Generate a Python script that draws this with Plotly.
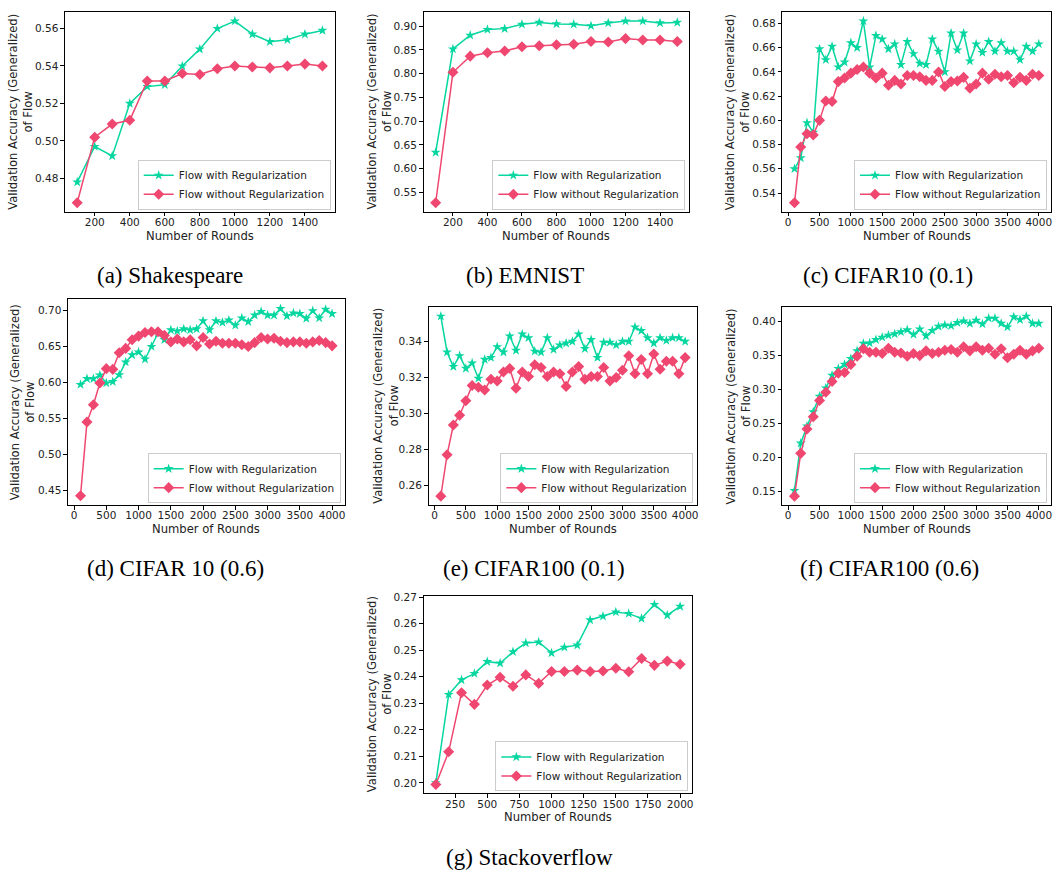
import plotly.graph_objects as go

W, H = 1056, 874
GREEN = "#06D6A0"
PINK = "#EF476F"
FONT = "DejaVu Sans"
TXT = "#222222"

# ---------------- data ----------------
rounds_short = list(range(100, 1501, 100))   # Shakespeare, EMNIST
rounds_long = list(range(100, 4001, 100))    # CIFAR10 / CIFAR100
rounds_so = list(range(100, 2001, 100))      # Stackoverflow

shakespeare_reg = [0.478, 0.497, 0.492, 0.520, 0.529, 0.530, 0.540, 0.549, 0.560, 0.564,
                   0.557, 0.553, 0.554, 0.557, 0.559]
shakespeare_noreg = [0.467, 0.502, 0.509, 0.511, 0.532, 0.532, 0.536, 0.5355, 0.5385, 0.540,
                     0.5395, 0.539, 0.540, 0.541, 0.540]

emnist_reg = [0.634, 0.852, 0.881, 0.893, 0.895, 0.904, 0.908, 0.905, 0.904, 0.901,
              0.907, 0.911, 0.911, 0.907, 0.908]
emnist_noreg = [0.528, 0.803, 0.837, 0.844, 0.848, 0.857, 0.859, 0.861, 0.862, 0.868,
                0.867, 0.874, 0.871, 0.871, 0.868]

cifar10_01_reg = [0.560, 0.569, 0.598, 0.590, 0.659, 0.650, 0.661, 0.644, 0.648, 0.664,
                  0.660, 0.682, 0.644, 0.670, 0.667, 0.659, 0.663, 0.646, 0.665, 0.655,
                  0.647, 0.646, 0.667, 0.657, 0.640, 0.672, 0.658, 0.672, 0.649, 0.663,
                  0.656, 0.665, 0.657, 0.664, 0.657, 0.657, 0.650, 0.661, 0.657, 0.663]
cifar10_01_noreg = [0.532, 0.578, 0.589, 0.588, 0.600, 0.616, 0.6155, 0.632, 0.635, 0.639,
                    0.642, 0.644, 0.639, 0.635, 0.639, 0.629, 0.633, 0.630, 0.637, 0.637,
                    0.636, 0.633, 0.633, 0.640, 0.628, 0.632, 0.6325, 0.6355, 0.6265, 0.630,
                    0.639, 0.634, 0.638, 0.636, 0.637, 0.631, 0.6355, 0.633, 0.638, 0.637]

cifar10_06_reg = [0.597, 0.605, 0.605, 0.610, 0.599, 0.601, 0.6105, 0.628, 0.638, 0.642,
                  0.632, 0.6495, 0.668, 0.659, 0.6725, 0.671, 0.674, 0.6725, 0.674, 0.685,
                  0.6725, 0.685, 0.683, 0.686, 0.679, 0.689, 0.684, 0.693, 0.698, 0.693,
                  0.693, 0.702, 0.692, 0.696, 0.695, 0.6885, 0.699, 0.689, 0.701, 0.695]
cifar10_06_noreg = [0.443, 0.545, 0.569, 0.599, 0.619, 0.618, 0.641, 0.647, 0.659, 0.664,
                    0.669, 0.670, 0.670, 0.665, 0.656, 0.660, 0.656, 0.659, 0.6505, 0.662,
                    0.653, 0.657, 0.654, 0.654, 0.654, 0.652, 0.6495, 0.655, 0.662, 0.660,
                    0.661, 0.657, 0.655, 0.656, 0.656, 0.654, 0.656, 0.658, 0.655, 0.6505]

cifar100_01_reg = [0.354, 0.334, 0.326, 0.332, 0.325, 0.328, 0.3195, 0.330, 0.331, 0.337,
                   0.334, 0.343, 0.335, 0.344, 0.342, 0.3345, 0.334, 0.342, 0.3355, 0.338,
                   0.339, 0.340, 0.344, 0.336, 0.341, 0.331, 0.3395, 0.3395, 0.338, 0.340,
                   0.340, 0.348, 0.346, 0.342, 0.339, 0.342, 0.3405, 0.342, 0.342, 0.340]
cifar100_01_noreg = [0.254, 0.277, 0.2935, 0.299, 0.307, 0.3155, 0.3145, 0.313, 0.319, 0.318,
                     0.323, 0.325, 0.314, 0.323, 0.3205, 0.327, 0.3255, 0.3205, 0.323, 0.322,
                     0.315, 0.323, 0.326, 0.319, 0.3205, 0.3205, 0.3255, 0.318, 0.320, 0.324,
                     0.332, 0.322, 0.330, 0.322, 0.333, 0.3245, 0.329, 0.329, 0.322, 0.331]

cifar100_06_reg = [0.151, 0.221, 0.246, 0.267, 0.290, 0.302, 0.321, 0.331, 0.337, 0.3455,
                   0.357, 0.368, 0.3685, 0.3735, 0.377, 0.380, 0.382, 0.385, 0.388, 0.381,
                   0.389, 0.379, 0.387, 0.393, 0.395, 0.394, 0.3985, 0.401, 0.3975, 0.402,
                   0.3965, 0.405, 0.405, 0.3975, 0.392, 0.407, 0.403, 0.408, 0.3975, 0.3975]
cifar100_06_noreg = [0.143, 0.206, 0.242, 0.260, 0.284, 0.296, 0.312, 0.324, 0.325, 0.337,
                     0.349, 0.360, 0.355, 0.355, 0.353, 0.361, 0.355, 0.354, 0.349, 0.353,
                     0.350, 0.357, 0.353, 0.355, 0.358, 0.359, 0.355, 0.363, 0.357, 0.363,
                     0.358, 0.361, 0.352, 0.360, 0.347, 0.352, 0.358, 0.352, 0.357, 0.361]

stack_reg = [0.200, 0.2333, 0.2388, 0.2412, 0.2457, 0.2451, 0.2494, 0.2527, 0.2531, 0.249,
             0.2511, 0.2519, 0.2614, 0.2628, 0.2644, 0.2638, 0.262, 0.2672, 0.2632, 0.2665]
stack_noreg = [0.1994, 0.2117, 0.234, 0.2296, 0.2369, 0.2398, 0.2364, 0.2407, 0.2375, 0.242,
               0.242, 0.2425, 0.242, 0.2422, 0.2432, 0.2419, 0.2469, 0.2443, 0.2459, 0.2447]

captions = ["(a) Shakespeare", "(b) EMNIST", "(c) CIFAR10 (0.1)", "(d) CIFAR 10 (0.6)",
            "(e) CIFAR100 (0.1)", "(f) CIFAR100 (0.6)", "(g) Stackoverflow"]
series_names = ["Flow with Regularization", "Flow without Regularization"]
x_title = "Number of Rounds"
y_title = "Validation Accuracy (Generalized)<br>of Flow"

datasets = [
    (rounds_short, shakespeare_reg, shakespeare_noreg),
    (rounds_short, emnist_reg, emnist_noreg),
    (rounds_long, cifar10_01_reg, cifar10_01_noreg),
    (rounds_long, cifar10_06_reg, cifar10_06_noreg),
    (rounds_long, cifar100_01_reg, cifar100_01_noreg),
    (rounds_long, cifar100_06_reg, cifar100_06_noreg),
    (rounds_so, stack_reg, stack_noreg),
]

# ---------------- layout (pixel boxes: left, right, top, bottom) ----------------
boxes = [(65, 335, 7, 208), (424, 690, 7, 208), (783, 1052, 7, 208),
         (68, 345, 296, 503), (429, 698, 304, 503), (783, 1052, 304, 503),
         (424, 693, 594, 793)]
ydticks = [0.02, 0.05, 0.02, 0.05, 0.02, 0.05, 0.01]
xdticks = [200, 200, 500, 500, 500, 500, 250]
ytitle_offset = [44, 44, 44, 46, 43, 44, 44]
caption_pos = [(170, 272), (525, 272), (889, 272), (176, 567), (535, 567), (890, 567), (530, 857)]

fig = go.Figure()
layout_updates = {}
annotations = []

for i, ((xs, reg, noreg), box) in enumerate(zip(datasets, boxes)):
    n = i + 1
    sfx = "" if n == 1 else str(n)
    leg = "legend" if n == 1 else f"legend{n}"
    fig.add_trace(go.Scatter(
        x=xs, y=reg, mode="lines+markers", name=series_names[0],
        line=dict(color=GREEN, width=1.5),
        marker=dict(symbol="star", size=7.5, color=GREEN),
        xaxis=f"x{sfx}", yaxis=f"y{sfx}", legend=leg))
    fig.add_trace(go.Scatter(
        x=xs, y=noreg, mode="lines+markers", name=series_names[1],
        line=dict(color=PINK, width=1.5),
        marker=dict(symbol="diamond", size=8.5, color=PINK),
        xaxis=f"x{sfx}", yaxis=f"y{sfx}", legend=leg))

    l, r, t, b = box
    xmin, xmax = min(xs), max(xs)
    xpad = 0.05 * (xmax - xmin)
    ymin, ymax = min(reg + noreg), max(reg + noreg)
    ypad = 0.05 * (ymax - ymin)

    common = dict(showline=True, mirror=True, linecolor="black", linewidth=1,
                  ticks="outside", ticklen=3.5, tickcolor="black", showgrid=False,
                  zeroline=False, tickfont=dict(family=FONT, size=10.5, color=TXT))
    layout_updates[f"xaxis{sfx}"] = dict(
        domain=[l / W, r / W], anchor=f"y{sfx}",
        range=[xmin - xpad, xmax + xpad], dtick=xdticks[i], tick0=0,
        ticklabelstandoff=-3, **common)
    layout_updates[f"yaxis{sfx}"] = dict(
        domain=[1 - b / H, 1 - t / H], anchor=f"x{sfx}",
        range=[ymin - ypad, ymax + ypad], dtick=ydticks[i], tick0=0, tickformat=".2f",
        **common)
    layout_updates[leg] = dict(
        x=(r - 4) / W, y=1 - (b - 2) / H, xanchor="right", yanchor="bottom",
        bgcolor="rgba(255,255,255,0.85)", bordercolor="#cccccc", borderwidth=1,
        font=dict(family=FONT, size=10.5, color=TXT), itemwidth=30, tracegroupgap=0)

    # axis titles
    annotations.append(dict(
        text=x_title, x=(l + r) / 2 / W, y=1 - (b + 24) / H, xref="paper", yref="paper",
        xanchor="center", yanchor="middle", showarrow=False,
        font=dict(family=FONT, size=11.6, color=TXT)))
    annotations.append(dict(
        text=y_title, x=(l - ytitle_offset[i]) / W, y=1 - (t + b) / 2 / H,
        xref="paper", yref="paper", xanchor="center", yanchor="middle",
        textangle=-90, showarrow=False,
        font=dict(family=FONT, size=11.6, color=TXT)))

    cx, cy = caption_pos[i]
    annotations.append(dict(
        text=captions[i], x=cx / W, y=1 - cy / H, xref="paper", yref="paper",
        xanchor="center", yanchor="middle", showarrow=False,
        font=dict(family="Liberation Serif", size=23, color="black")))

fig.update_layout(
    width=W, height=H, margin=dict(l=0, r=0, t=0, b=0),
    paper_bgcolor="white", plot_bgcolor="white",
    showlegend=True, annotations=annotations, **layout_updates)

fig.write_html(
    "out.html",
    config={"displayModeBar": False},
    post_script="document.body.style.margin='0';document.body.style.overflow='hidden';",
)
